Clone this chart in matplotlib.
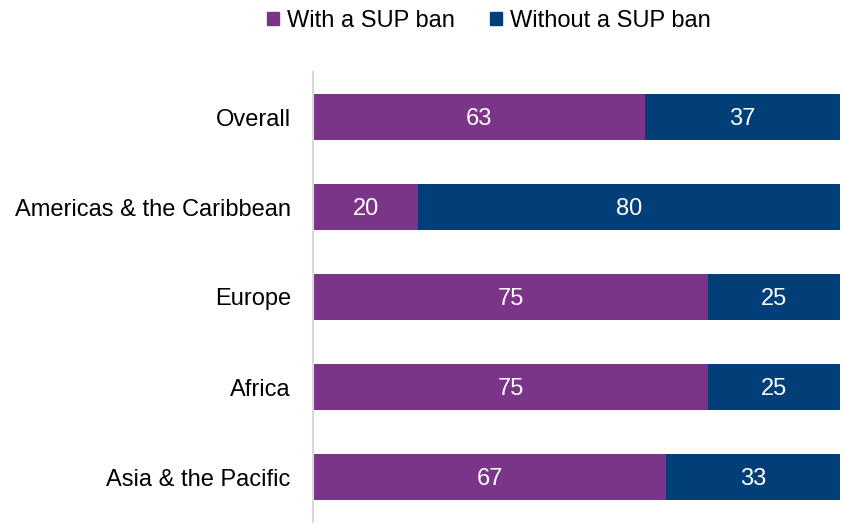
import matplotlib.pyplot as plt
from matplotlib.patches import Patch

plt.rcParams['font.family'] = ['Liberation Sans', 'DejaVu Sans']

regions = ['Overall', 'Americas & the Caribbean', 'Europe', 'Africa', 'Asia & the Pacific']
with_ban = [63, 20, 75, 75, 67]
without_ban = [37, 80, 25, 25, 33]
series_names = ['With a SUP ban', 'Without a SUP ban']
colors = ['#7A3588', '#023F78']

fig = plt.figure(figsize=(8.43, 5.29), dpi=100)
ax = fig.add_axes([313 / 843, 1 - 522 / 529, (840 - 313) / 843, 450 / 529])

ypos = list(range(len(regions)))
h = 0.51
b1 = ax.barh(ypos, with_ban, height=h, color=colors[0])
b2 = ax.barh(ypos, without_ban, left=with_ban, height=h, color=colors[1])

for bars in (b1, b2):
    texts = ax.bar_label(bars, label_type='center', color='white', fontsize=17)
    for t in texts:
        t.xyann = (0, -1.5)  # nudge down a touch

ax.set_xlim(0, 100)
ax.set_ylim(len(regions) - 0.5, -0.5)
ax.set_yticks(ypos)
ax.set_yticklabels(regions, fontsize=17)
ax.tick_params(axis='y', length=0, pad=16)
ax.set_xticks([])
for s in ['top', 'right', 'bottom']:
    ax.spines[s].set_visible(False)
ax.spines['left'].set_color('#D9D9D9')
ax.spines['left'].set_linewidth(1.5)

handles = [Patch(color=c) for c in colors]
fig.legend(handles, series_names, loc='center', bbox_to_anchor=(0.58, 1 - 21 / 529),
           ncol=2, frameon=False, fontsize=17, handlelength=0.5, handleheight=0.5,
           handletextpad=0.35, columnspacing=1.5)

fig.savefig('out.png', dpi=100)
